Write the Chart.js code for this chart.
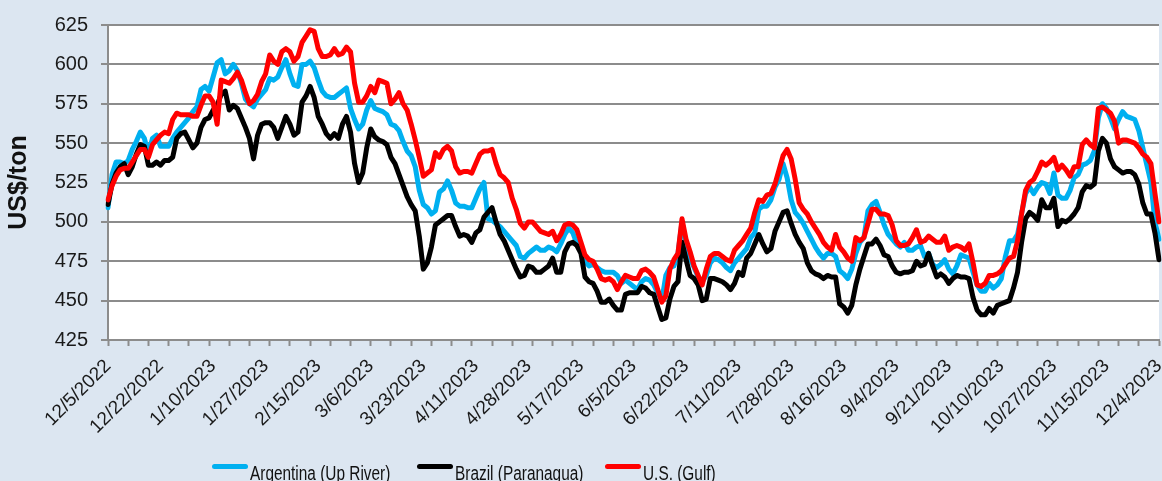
<!DOCTYPE html>
<html>
<head>
<meta charset="utf-8">
<script src="https://cdn.jsdelivr.net/npm/chart.js@4.4.0/dist/chart.umd.min.js"></script>
<style>
  html, body { margin: 0; padding: 0; background: #dce6f1; }
  #wrap { position: relative; width: 1162px; height: 481px; background: #dce6f1; overflow: hidden; }
  .item { position: absolute; top: 462px; height: 22px; white-space: nowrap;
          font-family: 'Liberation Sans', Arial, sans-serif; font-size: 20px; color: #111; }
  .swatch { position: absolute; left: 0; top: 2px; width: 36px; height: 5px; border-radius: 3px; }
  .texto { position: absolute; left: 38px; top: 0; line-height: 22px; transform: scaleX(0.77); transform-origin: left center; }
</style>
</head>
<body>
<div id="wrap">
  <canvas id="grafico" width="1162" height="481"></canvas>
</div>
<script>
// Dias úteis de 12/5/2022 a 12/4/2023
const inicio = new Date(2022, 11, 5);
const fim = new Date(2023, 11, 4);
const datas = [];
for (let d = new Date(inicio); d <= fim; d.setDate(d.getDate() + 1)) {
    const dia = d.getDay();
    if (dia !== 0 && dia !== 6) {
        datas.push((d.getMonth() + 1) + '/' + d.getDate() + '/' + d.getFullYear());
    }
}

const yTicks = [425, 450, 475, 500, 525, 550, 575, 600, 625];

const argentina = [
    509, 530, 538, 538, 537, 539, 546, 551, 557, 553,
    543, 553, 555, 548, 548, 548, 553, 557, 560, 563,
    566, 570, 573, 584, 586, 583, 592, 601, 603, 594,
    596, 600, 596, 588, 578, 575, 573, 578, 581, 584,
    591, 590, 592, 598, 603, 594, 587, 586, 600, 600,
    602, 598, 590, 583, 580, 579, 579, 581, 583, 585,
    572, 565, 559, 562, 571, 577, 572, 571, 570, 568,
    562, 561, 558, 551, 545, 542, 535, 520, 511, 509,
    505, 507, 519, 521, 526, 520, 512, 510, 510, 509,
    509, 515, 521, 525, 502, 501, 499, 497, 494, 491,
    488, 485, 478, 477, 480, 482, 484, 482, 482, 484,
    483, 481, 486, 492, 496, 493, 486, 481, 475, 472,
    473, 471, 469, 468, 468, 468, 466, 461, 463, 461,
    459, 457, 462, 464, 463, 460, 455, 450, 466, 471,
    472, 480, 500, 486, 477, 471, 465, 462, 466, 474,
    477, 476, 474, 471, 469, 474, 477, 480, 483, 490,
    493, 508, 510, 510, 514, 522, 527, 537, 528, 514,
    506, 503, 499, 494, 489, 484, 480, 477, 480, 480,
    478, 469, 467, 464, 470, 480, 487, 490, 507, 511,
    513, 506, 498, 492, 489, 486, 484, 487, 482, 482,
    484, 485, 478, 480, 473, 471, 473, 476, 470, 467,
    472, 479, 478, 477, 468, 460, 456, 456, 461, 458,
    460, 464, 478, 488, 488, 492, 505, 518, 522, 518,
    522, 525, 524, 518, 531, 517, 515, 515, 520, 528,
    530, 536, 537, 539, 545, 566, 575, 572, 566, 559,
    565, 570, 567, 566, 565, 558, 547, 536, 525, 500, 489
];

const brasil = [
    511, 524, 531, 535, 537, 530, 535, 543, 549, 548,
    536, 536, 538, 536, 539, 539, 541, 553, 556, 557,
    552, 547, 550, 560, 565, 566, 571, 574, 581, 583,
    571, 574, 572, 566, 560, 553, 540, 555, 562, 563,
    563, 560, 553, 560, 567, 562, 555, 557, 576, 580,
    586, 579, 567, 562, 556, 553, 556, 553, 562, 567,
    557, 537, 525, 531, 547, 559, 554, 552, 551, 549,
    541, 537, 530, 523, 516, 511, 507, 491, 470, 474,
    484, 498, 500, 502, 504, 504, 497, 491, 492, 491,
    487, 493, 495, 503, 506, 509, 500, 492, 488, 482,
    476, 470, 465, 466, 472, 471, 468, 468, 470, 472,
    477, 468, 468, 481, 486, 487, 485, 480, 465, 462,
    461, 456, 449, 449, 451, 447, 444, 444, 454, 455,
    455, 455, 459, 458, 455, 454, 446, 438, 439, 451,
    459, 462, 487, 476, 466, 464, 460, 450, 451, 464,
    464, 463, 462, 460, 457, 461, 468, 466, 477, 480,
    486, 492, 486, 481, 483, 494, 500, 506, 507, 499,
    492, 487, 483, 474, 469, 467, 466, 464, 466, 465,
    465, 448, 446, 442, 447, 460, 470, 478, 486, 486,
    489, 485, 479, 478, 472, 468, 467, 468, 468, 469,
    475, 472, 473, 480, 472, 465, 467, 465, 461, 464,
    466, 465, 465, 464, 452, 444, 441, 441, 445, 442,
    447, 448, 449, 450, 458, 468, 487, 502, 506, 504,
    501, 514, 509, 509, 515, 497, 501, 500, 502, 505,
    509, 519, 523, 522, 524, 545, 553, 550, 540, 535,
    533, 531, 532, 532, 530, 524, 512, 505, 505, 493, 476
];

const eua = [
    514, 523, 529, 533, 534, 534, 538, 542, 546, 546,
    541, 549, 552, 555, 557, 556, 565, 569, 568, 568,
    568, 567, 567, 574, 580, 580, 576, 562, 590, 589,
    588, 591, 595, 590, 582, 575, 577, 581, 589, 594,
    606, 602, 600, 608, 610, 608, 602, 605, 614, 618,
    622, 621, 610, 605, 605, 606, 610, 606, 607, 611,
    608, 588, 576, 576, 580, 586, 582, 590, 589, 588,
    575, 578, 582, 575, 571, 562, 552, 541, 529, 531,
    533, 544, 541, 546, 548, 545, 535, 531, 532, 532,
    531, 537, 543, 545, 545, 546, 537, 530, 528, 525,
    515, 508, 499, 496, 500, 500, 497, 494, 493, 492,
    494, 488, 492, 498, 499, 498, 495, 487, 479, 476,
    475, 470, 464, 463, 464, 462, 457, 462, 466, 465,
    464, 464, 469, 470, 468, 465, 457, 449, 453, 470,
    476, 480, 502, 489, 481, 472, 466, 460, 470, 478,
    480, 480, 478, 476, 475, 482, 485, 488, 492, 496,
    506, 514, 513, 517, 518, 524, 533, 542, 546, 540,
    527, 512, 508, 505, 500, 496, 492, 487, 484, 482,
    492, 484, 481, 477, 475, 490, 488, 490, 499, 508,
    508, 505, 505, 504, 498, 488, 485, 485, 486, 490,
    495, 487, 488, 491, 489, 487, 487, 491, 482, 484,
    485, 484, 482, 486, 474, 460, 459, 461, 466, 466,
    467, 469, 473, 477, 478, 488, 505, 520, 525, 527,
    532, 538, 536, 538, 541, 533, 536, 533, 529, 535,
    535, 549, 552, 549, 547, 572, 573, 571, 569, 564,
    550, 552, 552, 551, 550, 547, 543, 541, 537, 518, 500
];

const series = [
    { nome: 'Argentina (Up River)', dados: argentina, cor: '#00b0f0', ordem: 2, legX: 212 },
    { nome: 'Brazil (Paranagua)', dados: brasil, cor: '#000000', ordem: 1, legX: 417 },
    { nome: 'U.S. (Gulf)', dados: eua, cor: '#ff0000', ordem: 0, legX: 605 }
];

const cinza = '#8c8c8c';
Chart.defaults.font.family = "'Liberation Sans', Arial, sans-serif";

// fundo branco da área do gráfico
const fundoArea = {
    id: 'fundoArea',
    beforeDraw(chart) {
        const a = chart.chartArea;
        chart.ctx.save();
        chart.ctx.fillStyle = '#ffffff';
        chart.ctx.fillRect(a.left, a.top, a.right - a.left, a.bottom - a.top);
        chart.ctx.restore();
    }
};

new Chart(document.getElementById('grafico'), {
    type: 'line',
    data: {
        labels: datas,
        datasets: series.map(s => ({
            label: s.nome,
            data: s.dados,
            borderColor: s.cor,
            backgroundColor: s.cor,
            borderWidth: 5,
            pointRadius: 0,
            tension: 0,
            borderJoinStyle: 'round',
            borderCapStyle: 'round',
            order: s.ordem
        }))
    },
    options: {
        responsive: false,
        animation: false,
        layout: { padding: { top: 17, right: 3, bottom: 0, left: 0 } },
        plugins: { legend: { display: false }, tooltip: { enabled: false } },
        scales: {
            x: {
                type: 'category',
                offset: false,
                afterFit(scale) {
                    scale.height = 141;
                    scale.paddingLeft = 0;
                    scale.paddingRight = 0;
                },
                grid: {
                    drawOnChartArea: false,
                    tickLength: 6,
                    tickWidth: 2,
                    tickColor: ctx => (ctx.index % 5 === 0 ? cinza : 'rgba(0,0,0,0)')
                },
                border: { display: true, color: cinza, width: 2 },
                ticks: {
                    autoSkip: false,
                    minRotation: 45,
                    maxRotation: 45,
                    padding: 9,
                    color: '#1a1a1a',
                    font: { size: 19 },
                    callback: function(valor, i) {
                        return i % 13 === 0 ? this.getLabelForValue(valor) : '';
                    }
                }
            },
            y: {
                min: 425,
                max: 625,
                afterFit(scale) { scale.width = 108; },
                afterBuildTicks(scale) { scale.ticks = yTicks.map(v => ({ value: v })); },
                grid: { color: cinza, lineWidth: 2, tickLength: 7 },
                border: { display: true, color: cinza, width: 2 },
                ticks: { padding: 13, color: '#1a1a1a', font: { size: 20 } },
                title: {
                    display: true,
                    text: 'US$/ton',
                    color: '#111',
                    font: { size: 25, weight: 'bold' },
                    padding: { top: 4, bottom: 0 }
                }
            }
        }
    },
    plugins: [fundoArea]
});

// legenda
const wrap = document.getElementById('wrap');
series.forEach(s => {
    const item = document.createElement('div');
    item.className = 'item';
    item.style.left = s.legX + 'px';
    item.innerHTML = `<span class="swatch" style="background:${s.cor}"></span><span class="texto">${s.nome}</span>`;
    wrap.appendChild(item);
});
</script>
</body>
</html>
